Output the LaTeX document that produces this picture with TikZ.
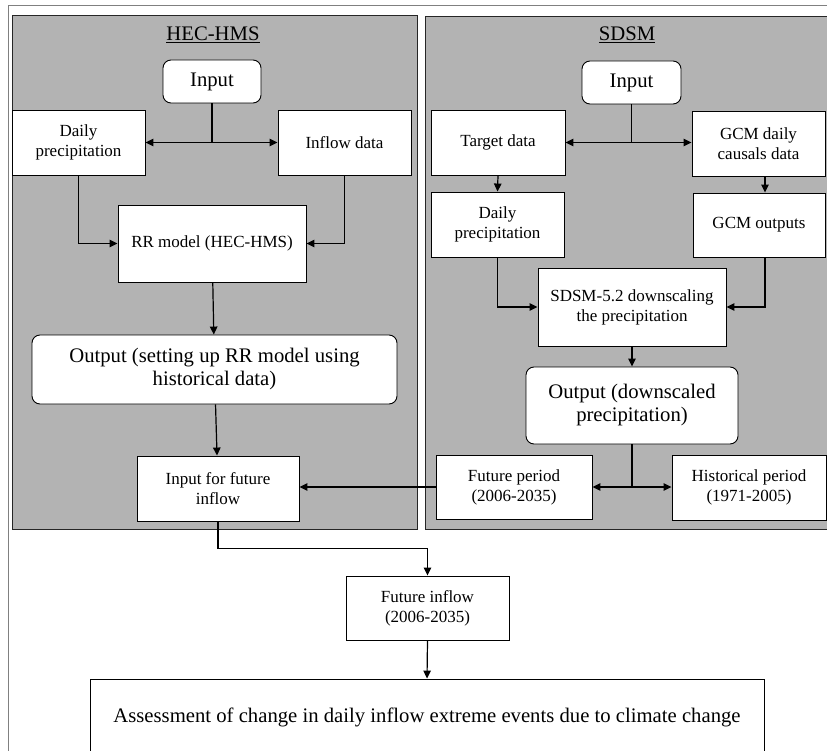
\documentclass[tikz,border=0pt]{standalone}
\usepackage{fontspec}
\setmainfont{Liberation Serif}
\usetikzlibrary{arrows.meta}
\definecolor{panelgray}{RGB}{179,179,179}
\newcommand\smalltxt{\fontsize{17}{20}\selectfont}
\newcommand\largetxt{\fontsize{20.7}{23}\selectfont}
\begin{document}
\begin{tikzpicture}[x=1pt,y=-1pt,
  box/.style={draw=black, line width=0.9pt, fill=white, align=center, inner sep=0pt, font=\smalltxt},
  rbox/.style={box, rounded corners=8pt, font=\largetxt},
  panel/.style={draw=black!85, line width=1.3pt, fill=panelgray, inner sep=0pt, anchor=north west},
  conn/.style={line width=1.2pt, draw=black},
  arr/.style={conn, -{Triangle[length=8pt,width=7.5pt]}},
  darr/.style={conn, {Triangle[length=8pt,width=7.5pt]}-{Triangle[length=8pt,width=7.5pt]}},
  ttl/.style={font=\largetxt, anchor=base}
]
\useasboundingbox (0,0) rectangle (827,751);
\clip (0,0) rectangle (827,751);
\fill[white] (0,0) rectangle (827,751);
\node[draw=gray, line width=1pt, minimum width=860pt, minimum height=800pt, anchor=north west, inner sep=0pt] (frame) at (8,5) {};
\node[panel, minimum width=405pt, minimum height=514pt] (hecp) at (12,15) {};
\node[panel, minimum width=430pt, minimum height=513pt] (sdp) at (425,16) {};

% titles
\node[ttl] (t1) at (213,41) {\underline{HEC-HMS}};
\node[ttl] (t2) at (627,41) {\underline{SDSM}};

% HEC-HMS nodes
\node[rbox, minimum width=98pt, minimum height=43pt] (in1) at (212,81.5) {Input};
\node[box, minimum width=133pt, minimum height=65pt] (dp1) at (78.5,142.5) {Daily\\precipitation};
\node[box, minimum width=133pt, minimum height=65pt] (inf) at (344.5,142.5) {Inflow data};
\node[box, minimum width=188pt, minimum height=77pt] (rr) at (212,243.5) {RR model (HEC-HMS)};
\node[rbox, minimum width=365pt, minimum height=69pt] (out1) at (214.5,369.5) {Output (setting up RR model using\\historical data)};
\node[box, minimum width=162pt, minimum height=65pt] (iff) at (218,488.5) {Input for future\\inflow};

% SDSM nodes
\node[rbox, minimum width=99pt, minimum height=43pt] (in2) at (631.5,82.5) {Input};
\node[box, minimum width=134pt, minimum height=65pt] (td) at (498,142.5) {Target data};
\node[box, minimum width=133pt, minimum height=65pt] (gcm1) at (758.5,143.5) {GCM daily\\causals data};
\node[box, minimum width=133pt, minimum height=65pt] (dp2) at (497.5,224.5) {Daily\\precipitation};
\node[box, minimum width=132pt, minimum height=64pt] (gco) at (759,225) {GCM outputs};
\node[box, minimum width=188pt, minimum height=78pt] (sd) at (632,307) {SDSM-5.2 downscaling\\the precipitation};
\node[rbox, minimum width=212pt, minimum height=77pt] (out2) at (632,405.5) {Output (downscaled\\precipitation)};
\node[box, minimum width=156pt, minimum height=64pt] (fp) at (514,487) {Future period\\(2006-2035)};
\node[box, minimum width=154pt, minimum height=65pt] (hp) at (749,487.5) {Historical period\\(1971-2005)};

% bottom nodes
\node[box, minimum width=163pt, minimum height=64pt] (fi) at (427.5,608) {Future inflow\\(2006-2035)};
\node[box, font=\largetxt, minimum width=674pt, minimum height=76pt] (as) at (427,717) {Assessment of change in daily inflow extreme events due to climate change};

% HEC-HMS connectors
\draw[conn] (in1.south) -- (in1.south |- dp1.east);
\draw[darr] (dp1.east) -- (inf.west);
\draw[arr] (dp1.south) |- (rr.west);
\draw[arr] (inf.south) |- (rr.east);
\draw[arr] (rr) -- (out1);
\draw[arr] (out1) -- (iff);

% SDSM connectors
\draw[conn] (in2.south) -- (in2.south |- td.east);
\draw[darr] (td.east) -- (td.east -| gcm1.west);
\draw[arr] (td.south) -- (dp2.north);
\coordinate (g1) at ([xshift=6.5pt]gcm1.south);
\coordinate (g2) at ([xshift=6pt]gco.south);
\draw[arr] (g1) -- (g1 |- gco.north);
\draw[arr] (dp2.south) |- (sd.west);
\draw[arr] (g2) |- (sd.east);
\draw[arr] (sd.south) -- (out2.north);
\draw[conn] (out2.south) -- (out2.south |- fp.east);
\draw[darr] (fp.east) -- (fp.east -| hp.west);
\draw[arr] (fp.west) -- (fp.west -| iff.east);

% bottom connectors
\draw[arr] (iff.south) -- ++(0,27) -| (fi.north);
\draw[arr] (fi.south) -- (as.north);
\end{tikzpicture}
\end{document}
